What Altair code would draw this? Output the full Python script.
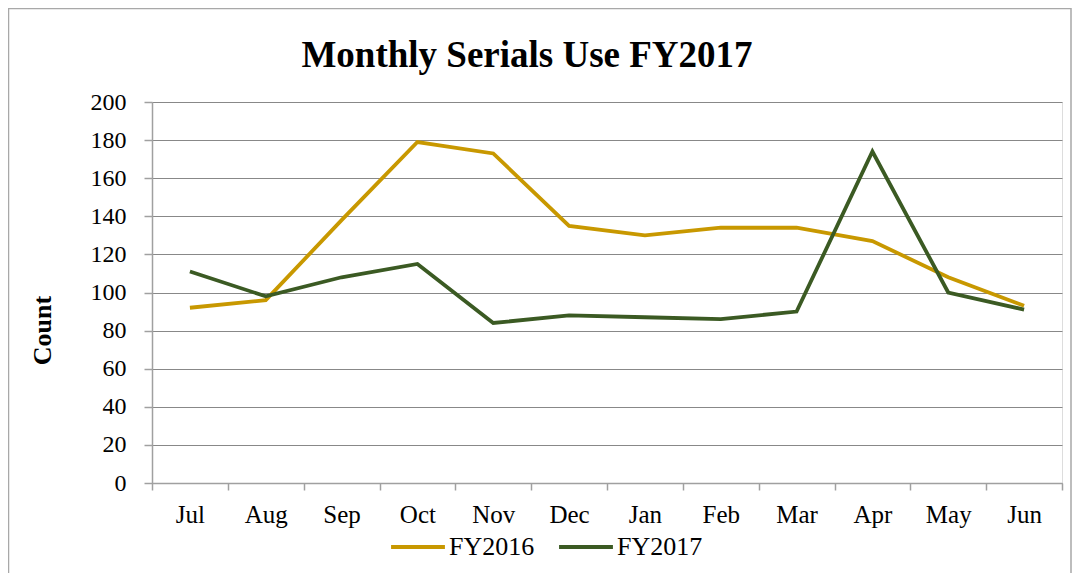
import altair as alt
import pandas as pd

months = ["Jul", "Aug", "Sep", "Oct", "Nov", "Dec", "Jan", "Feb", "Mar", "Apr", "May", "Jun"]
fy2016 = [92, 96, 138, 179, 173, 135, 130, 134, 134, 127, 108, 93]
fy2017 = [111, 98, 108, 115, 84, 88, 87, 86, 90, 174, 100, 91]
series = ["FY2016", "FY2017"]
colors = ["#C89800", "#3B5A23"]
title_text = "Monthly Serials Use FY2017"
y_ticks = [0, 20, 40, 60, 80, 100, 120, 140, 160, 180, 200]

rows = []
for m, a, b in zip(months, fy2016, fy2017):
    rows.append({"Month": m, "Series": series[0], "Count": a})
    rows.append({"Month": m, "Series": series[1], "Count": b})
df = pd.DataFrame(rows)
one = pd.DataFrame({"k": [1]})

SERIF = "Liberation Serif"

lines = alt.Chart(df).mark_line(strokeWidth=3.8, strokeJoin="miter").encode(
    x=alt.X("Month:N", sort=months,
            scale=alt.Scale(type="band", paddingInner=0, paddingOuter=0),
            axis=alt.Axis(title=None, tickBand="extent", labelAngle=0, labelFont=SERIF,
                          labelFontSize=25, labelColor="black", labelPadding=12,
                          domainColor="#a0a0a0", domainWidth=1.5, tickColor="#a0a0a0",
                          tickWidth=1.5, tickSize=7, grid=False)),
    y=alt.Y("Count:Q", scale=alt.Scale(domain=[0, 200], nice=False),
            axis=alt.Axis(values=y_ticks, title="Count", titleFont=SERIF, titleFontSize=26,
                          titleFontWeight="bold", titleColor="black", titleX=-110, titleY=228,
                          titleAngle=-90, titleAlign="center", titleBaseline="middle",
                          labelFont=SERIF, labelFontSize=24, labelColor="black", labelPadding=18,
                          domainColor="#a0a0a0", domainWidth=1.5, tickColor="#a0a0a0",
                          tickWidth=1.5, tickSize=8, grid=True, gridColor="#888888",
                          gridWidth=1.2)),
    color=alt.Color("Series:N", scale=alt.Scale(domain=series, range=colors),
                    legend=alt.Legend(title=None, orient="none", legendX=237, legendY=416,
                                      padding=0, direction="horizontal", symbolType="stroke",
                                      symbolSize=2900, symbolStrokeWidth=4,
                                      labelFont=SERIF, labelFontSize=26, labelColor="black",
                                      labelOffset=2, columnPadding=16)),
)

frame = alt.Chart(one).mark_rect(fill="transparent", stroke="#a8a8a8", strokeWidth=1.5).encode(
    x=alt.value(-143.5), x2=alt.value(919), y=alt.value(-93.5), y2=alt.value(520)
)

title = alt.Chart(one).mark_text(font=SERIF, fontSize=37, fontWeight="bold", color="black",
                                 align="center", baseline="alphabetic").encode(
    x=alt.value(375), y=alt.value(-35), text=alt.value(title_text)
)

chart = alt.layer(frame, lines, title).properties(
    width=910, height=381,
    autosize=alt.AutoSizeParams(type="none"),
    padding={"left": 144, "top": 94, "right": 10, "bottom": 90},
).configure_view(stroke=None).configure(background="white")

chart.save("out.html", embed_options={"renderer": "svg", "actions": False})
